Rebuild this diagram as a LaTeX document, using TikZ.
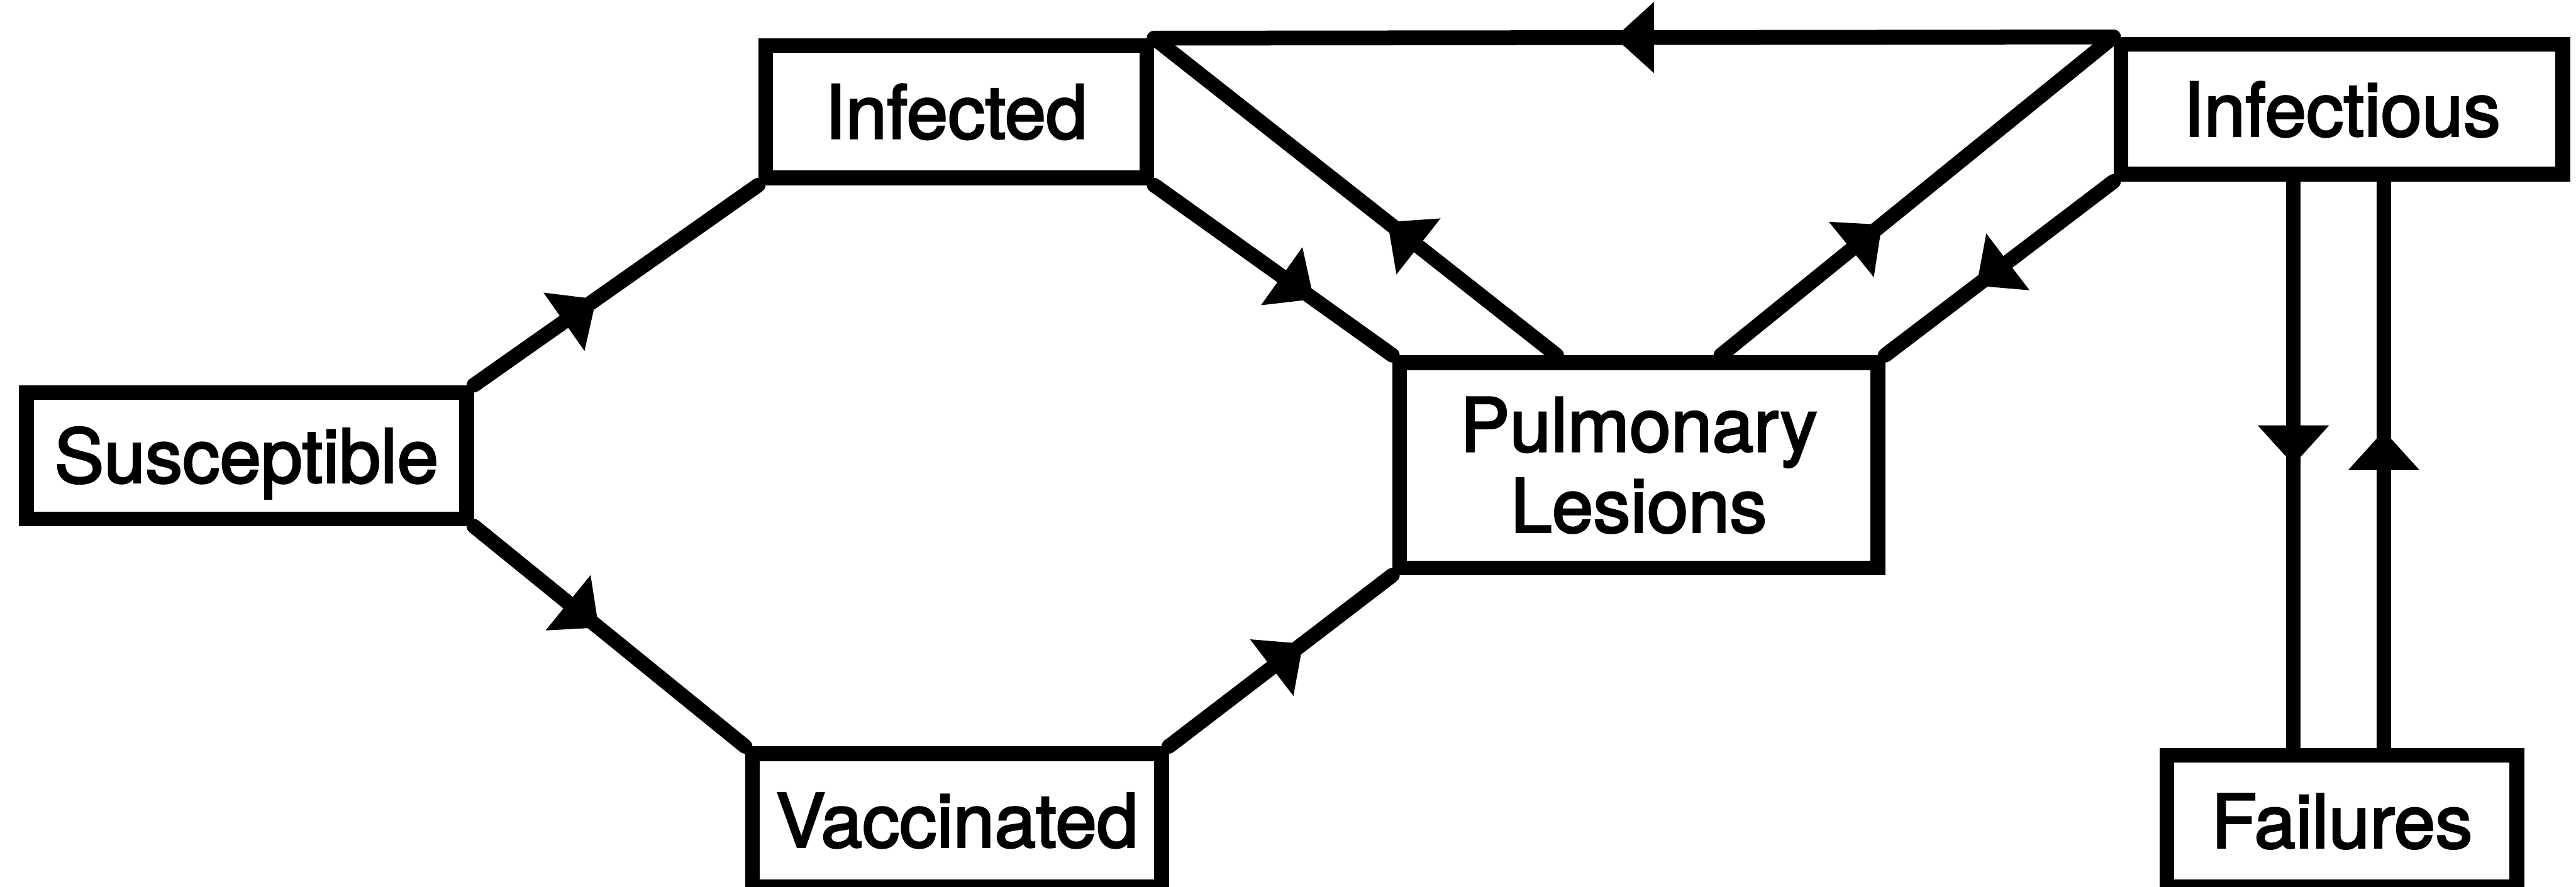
\documentclass[tikz,border=0pt]{standalone}
\usepackage{fontspec}
\setmainfont{TeX Gyre Heros}[FakeBold=2.5]
\usetikzlibrary{arrows.meta,decorations.markings,calc}
\newcommand\px{0.03338cm}
\begin{document}
\begin{tikzpicture}[x=\px,y=-\px,line width=9*\px,
	box/.style={draw,inner sep=0pt,font=\fontsize{43}{46.7}\selectfont},
	word/.style={box,text height=31pt,text depth=0pt},
	flow/.style={line cap=round,postaction={decorate},decoration={markings,
		mark=at position #1 with {\arrow{Triangle[width=1.45cm,length=0.8cm,line width=0pt]}}}}]
	\useasboundingbox (0,0) rectangle (1568,540);
	\node[word,minimum width=268*\px,minimum height=77*\px] (sus) at (150,277.5) {Susceptible};
	\node[word,minimum width=232*\px,minimum height=80.5*\px] (inf) at (582,68) {Infected};
	\node[word,minimum width=249*\px,minimum height=81*\px] (vac) at (582.5,499.5) {Vaccinated};
	\node[box,align=center,minimum width=291*\px,minimum height=125*\px] (pul) at (997.5,283.3) {Pulmonary\\Lesions};
	\node[word,minimum width=269*\px,minimum height=79*\px] (ifs) at (1425.5,66.5) {Infectious};
	\node[word,minimum width=213*\px,minimum height=80*\px] (fai) at (1425.5,500) {Failures};
	\coordinate (dn) at (1396,283);
	\coordinate (up) at (1451,283);
	\draw[flow=.43] (sus.north east) -- (inf.south west);
	\draw[flow=.46] (sus.south east) -- (vac.north west);
	\draw[flow=.67] (inf.south east) -- (pul.north west);
	\draw[flow=.6] (vac.north east) -- (pul.south west);
	\draw[flow=.42] ($(pul.north west)!1/3!(pul.north east)$) -- (inf.north east);
	\draw[flow=.41] ($(pul.north west)!2/3!(pul.north east)$) -- (ifs.north west);
	\draw[flow=.6] (ifs.south west) -- (pul.north east);
	\draw[flow=.52] (ifs.north west) -- (inf.north east);
	\draw[flow=.5] (dn |- ifs.south) -- (dn |- fai.north);
	\draw[flow=.56] (up |- fai.north) -- (up |- ifs.south);
\end{tikzpicture}
\end{document}
